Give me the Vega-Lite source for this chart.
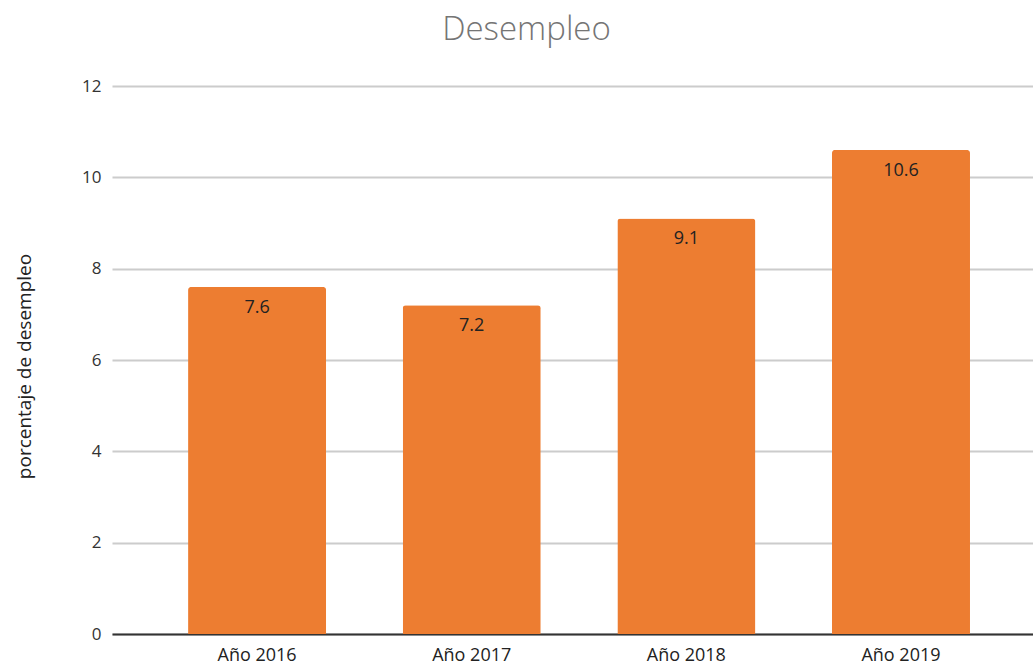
{
  "$schema": "https://vega.github.io/schema/vega-lite/v6.json",
  "autosize": {"type": "none"},
  "width": 921,
  "height": 548,
  "padding": {"left": 112, "top": 86, "right": 0, "bottom": 34},
  "background": "white",
  "title": {
    "text": "Desempleo",
    "fontSize": 33,
    "font": "Open Sans",
    "fontWeight": 300,
    "color": "#757575",
    "anchor": "middle",
    "offset": 30,
    "dx": -46
  },
  "data": {
    "values": [
      {"year": "Año 2016", "value": 7.6},
      {"year": "Año 2017", "value": 7.2},
      {"year": "Año 2018", "value": 9.1},
      {"year": "Año 2019", "value": 10.6}
    ]
  },
  "encoding": {
    "x": {
      "field": "year",
      "type": "nominal",
      "sort": null,
      "scale": {"paddingInner": 0.357, "paddingOuter": 0.324, "align": 0.547},
      "axis": {
        "title": null,
        "labelAngle": 0,
        "labelFont": "Open Sans",
        "labelFontSize": 18,
        "labelColor": "#222222",
        "labelPadding": 12,
        "ticks": false,
        "domainColor": "#333333",
        "domainWidth": 2,
        "grid": false
      }
    },
    "y": {
      "field": "value",
      "type": "quantitative",
      "scale": {"domain": [0, 12], "nice": false},
      "axis": {
        "title": "porcentaje de desempleo",
        "titleFont": "Open Sans",
        "titleFontSize": 19,
        "titleFontWeight": "normal",
        "titleColor": "#222222",
        "titleX": -88,
        "titleY": 280,
        "titleAngle": -90,
        "titleBaseline": "middle",
        "values": [0, 2, 4, 6, 8, 10, 12],
        "labelFont": "Open Sans",
        "labelFontSize": 17,
        "labelColor": "#333333",
        "labelPadding": 11,
        "ticks": false,
        "domain": false,
        "gridColor": "#cccccc",
        "gridWidth": 2
      }
    }
  },
  "layer": [
    {
      "mark": {"type": "bar", "color": "#ED7D31", "cornerRadiusTopLeft": 3, "cornerRadiusTopRight": 3}
    },
    {
      "mark": {"type": "text", "baseline": "middle", "dy": 21, "font": "Open Sans", "fontSize": 18, "color": "#222222"},
      "encoding": {"text": {"field": "value", "type": "quantitative", "format": ".1f"}}
    }
  ],
  "config": {"view": {"stroke": null}}
}
